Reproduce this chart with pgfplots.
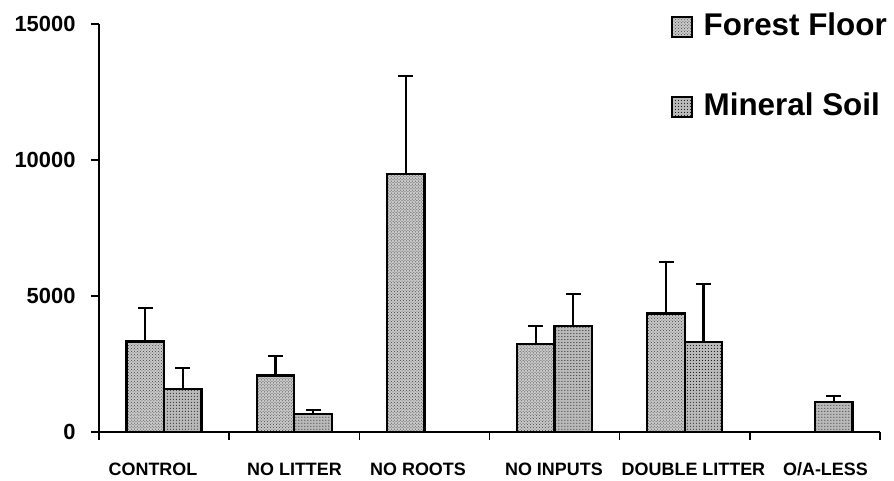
\documentclass[border=0pt]{standalone}
\usepackage{pgfplots}
\pgfplotsset{compat=1.18}
\usepackage{fontspec}
\setmainfont{Liberation Sans}
\usetikzlibrary{patterns}

% bar fills
\tikzset{
  ffbar/.style={draw=black, line width=2.4bp, fill=gray!42,
    postaction={pattern=crosshatch dots, pattern color=black!75}},
  msbar/.style={draw=black, line width=2.4bp, fill=gray!55,
    postaction={pattern=dots, pattern color=black}},
  errline/.style={/tikz/line width=2.2bp, /tikz/draw=black, /tikz/solid},
}

\begin{document}
\begin{tikzpicture}
\begin{axis}[
  scale only axis, width=781bp, height=408bp,
  ybar=0pt, bar width=37.5bp,
  xmin=-0.5, xmax=5.5, ymin=0, ymax=15000,
  axis x line*=bottom, axis y line*=left,
  axis line style={-, line width=1.4bp},
  clip=false,
  tick align=outside,
  % labels sit at their own positions; the boundary ticks are minor ticks
  xtick={-0.085,1.002,1.951,2.995,4.067,5.081},
  xticklabels={CONTROL, NO LITTER, NO ROOTS, NO INPUTS, DOUBLE LITTER, O/A-LESS},
  minor xtick={-0.5,0.5,1.5,2.5,3.5,4.5,5.5},
  major x tick style={draw=none},
  minor x tick style={line width=1.4bp, black},
  minor tick length=8bp,
  ytick={0,5000,10000,15000},
  scaled y ticks=false,
  major y tick style={line width=1.4bp, black},
  major tick length=8bp,
  /pgf/number format/1000 sep={},
  /pgf/number format/assume math mode=true,
  yticklabel style={font=\fontsize{22}{22}\selectfont\bfseries, xshift=-12bp},
  xticklabel style={font=\fontsize{18}{18}\selectfont\bfseries, yshift=-19bp},
  legend cell align=left,
  legend style={at={(0.732,1.030)}, anchor=north west, draw=none,
    fill=none, inner sep=0pt, row sep=54bp, column sep=9bp,
    nodes={font=\fontsize{31.5}{31.5}\selectfont\bfseries,
      text height=22bp, text depth=0bp, inner sep=2bp}},
  legend image code/.code={\draw[#1, line width=1.8bp] (0bp,-12bp) rectangle (20bp,8bp);},
]
\addplot[ffbar, error bars/.cd, y dir=plus, y explicit,
  error bar style={errline},
  error mark options={line width=2.2bp, black, mark size=7.5bp, rotate=90}]
  coordinates {
  (0,3320) +- (0,1230)
  (1,2070) +- (0,730)
  (2,9490) +- (0,3610)
  (3,3240) +- (0,660)
  (4,4350) +- (0,1900)
};
\addplot[msbar, error bars/.cd, y dir=plus, y explicit,
  error bar style={errline},
  error mark options={line width=2.2bp, black, mark size=7.5bp, rotate=90}]
  coordinates {
  (0,1570) +- (0,780)
  (1,660)  +- (0,150)
  (3,3900) +- (0,1180)
  (4,3310) +- (0,2140)
  (5,1100) +- (0,230)
};
\legend{Forest Floor, Mineral Soil}
\end{axis}
\path (current axis.south west) +(-99bp,-48bp) (current axis.north east) +(14bp,24bp);
\end{tikzpicture}
\end{document}
